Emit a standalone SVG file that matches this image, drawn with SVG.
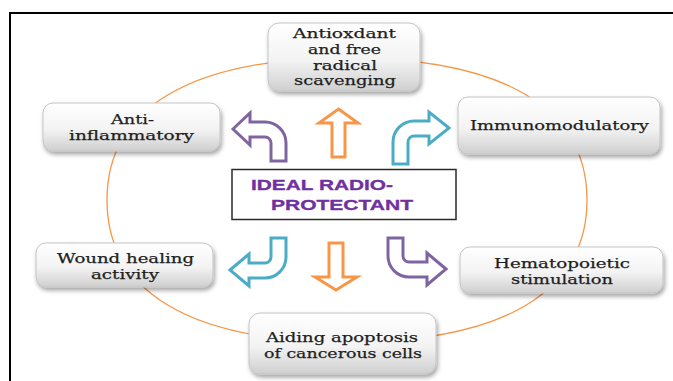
<svg xmlns="http://www.w3.org/2000/svg" width="673" height="381" viewBox="0 0 673 381">
  <defs>
    <linearGradient id="boxGrad" x1="0" y1="0" x2="0" y2="1">
      <stop offset="0" stop-color="#ffffff"/>
      <stop offset="0.55" stop-color="#f3f3f3"/>
      <stop offset="1" stop-color="#cfcfcf"/>
    </linearGradient>
    <filter id="shadow" x="-10%" y="-10%" width="125%" height="140%">
      <feDropShadow dx="1.5" dy="3" stdDeviation="2" flood-color="#000" flood-opacity="0.35"/>
    </filter>
  </defs>
  <style>
    .box { fill: url(#boxGrad); stroke: #c4c4c4; stroke-width: 1; filter: url(#shadow); }
    .lbl { font-family: "DejaVu Serif", "Liberation Serif", serif; font-size: 13.5px; fill: #1e1e1e; text-anchor: middle; stroke: #1e1e1e; stroke-width: 0.25; }
    .ctr { font-family: "Liberation Sans", Arial, sans-serif; font-weight: bold; font-size: 14px; fill: #7030A0; stroke: #7030A0; stroke-width: 0.3; }
    .arr { fill: #ffffff; stroke-width: 3; stroke-linejoin: miter; }
    .purple { stroke: #8064A2; }
    .orange { stroke: #F79646; }
    .cyan { stroke: #4BACC6; }
  </style>
  <rect x="0" y="0" width="673" height="381" fill="#ffffff"/>
  <rect x="10" y="13" width="700" height="400" fill="none" stroke="#000" stroke-width="2"/>

  <g id="ring">
    <path d="M107,200 C107,108 191,58 347,58 C503,58 587,108 587,200 C587,292 503,342 347,342 C191,342 107,292 107,200 Z" fill="none" stroke="#F79646" stroke-width="1.3"/>
  </g>

  <g id="connectors">
    <path class="arr purple" d="M233,129 L250,113 L250,122 L265,122 A21,21 0 0 1 286,143 L286,161 L271,161 L271,143 A6,6 0 0 0 265,137 L250,137 L250,145 Z"/>
    <path class="arr orange" d="M338.5,109 L358,123 L345,123 L345,157 L332,157 L332,123 L319,123 Z"/>
    <path class="arr cyan" d="M449,128 L429,112 L429,121 L414,121 A21,21 0 0 0 393,142 L393,164 L408,164 L408,142 A6,6 0 0 1 414,136 L429,136 L429,144 Z"/>
    <path class="arr cyan" d="M230,270 L249,254 L249,263 L265,263 A6,6 0 0 0 271,257 L271,238 L286,238 L286,257 A21,21 0 0 1 265,278 L249,278 L249,286 Z"/>
    <path class="arr orange" d="M329,243 L343,243 L343,277 L357,277 L336,290 L315,277 L329,277 Z"/>
    <path class="arr purple" d="M446,269 L427,253 L427,262 L409,262 A6,6 0 0 1 403,256 L403,238 L388,238 L388,256 A21,21 0 0 0 409,277 L427,277 L427,285 Z"/>
  </g>

  <g id="center">
    <rect x="232" y="169.5" width="224" height="50" fill="#ffffff" stroke="#2a2a2a" stroke-width="1.5"/>
    <text class="ctr" x="251" y="190" textLength="142" lengthAdjust="spacingAndGlyphs">IDEAL RADIO-</text>
    <text class="ctr" x="271" y="210" textLength="142" lengthAdjust="spacingAndGlyphs">PROTECTANT</text>
  </g>

  <g id="antioxidant">
    <rect class="box" x="268" y="23" width="152" height="68" rx="11"/>
    <text class="lbl" x="344.5" y="38" textLength="103" lengthAdjust="spacingAndGlyphs">Antioxdant</text>
    <text class="lbl" x="344.5" y="54" textLength="73" lengthAdjust="spacingAndGlyphs">and free</text>
    <text class="lbl" x="345" y="70" textLength="64" lengthAdjust="spacingAndGlyphs">radical</text>
    <text class="lbl" x="345" y="85" textLength="102" lengthAdjust="spacingAndGlyphs">scavenging</text>
  </g>

  <g id="anti-inflammatory">
    <rect class="box" x="43" y="103" width="177" height="48" rx="10"/>
    <text class="lbl" x="132.5" y="124" textLength="43" lengthAdjust="spacingAndGlyphs">Anti-</text>
    <text class="lbl" x="131.5" y="140" textLength="125" lengthAdjust="spacingAndGlyphs">inflammatory</text>
  </g>

  <g id="immunomodulatory">
    <rect class="box" x="458" y="97" width="202" height="57" rx="10"/>
    <text class="lbl" x="559.5" y="130" textLength="179" lengthAdjust="spacingAndGlyphs">Immunomodulatory</text>
  </g>

  <g id="wound-healing">
    <rect class="box" x="36" y="243" width="177" height="44" rx="10"/>
    <text class="lbl" x="125.5" y="263" textLength="137" lengthAdjust="spacingAndGlyphs">Wound healing</text>
    <text class="lbl" x="125" y="279" textLength="68" lengthAdjust="spacingAndGlyphs">activity</text>
  </g>

  <g id="hematopoietic">
    <rect class="box" x="460" y="247" width="203" height="46" rx="10"/>
    <text class="lbl" x="562" y="268" textLength="136" lengthAdjust="spacingAndGlyphs">Hematopoietic</text>
    <text class="lbl" x="562" y="284" textLength="102" lengthAdjust="spacingAndGlyphs">stimulation</text>
  </g>

  <g id="apoptosis">
    <rect class="box" x="249" y="313" width="187" height="61" rx="11"/>
    <text class="lbl" x="342" y="342" textLength="152" lengthAdjust="spacingAndGlyphs">Aiding apoptosis</text>
    <text class="lbl" x="343" y="358" textLength="158" lengthAdjust="spacingAndGlyphs">of cancerous cells</text>
  </g>
</svg>
